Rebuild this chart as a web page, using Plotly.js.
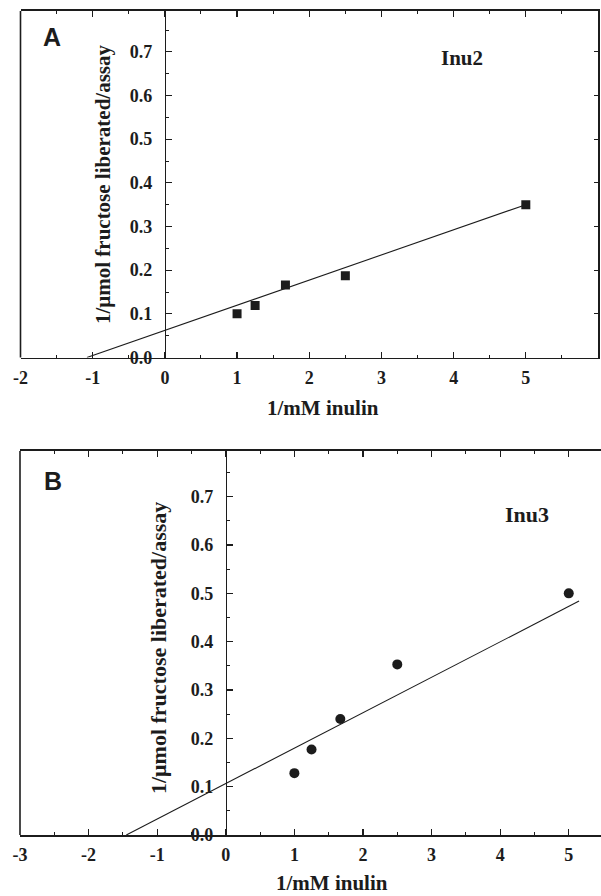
<!DOCTYPE html>
<html>
<head>
<meta charset="utf-8">
<script src="https://cdn.plot.ly/plotly-3.0.1.min.js"></script>
<style>html,body{margin:0;padding:0;background:#fff;}#chart{width:601px;height:896px;}</style>
</head>
<body>
<div id="chart"></div>
<script>
// ---- data ----
const xA = [1.0, 1.25, 1.67, 2.5, 5.0];
const yA = [0.100, 0.119, 0.166, 0.187, 0.350];
const fitAx = [-1.08, 5.0];
const fitAy = [0.0, 0.350];

const xB = [1.0, 1.25, 1.67, 2.5, 5.0];
const yB = [0.128, 0.177, 0.240, 0.353, 0.500];
const fitBx = [-1.45, 5.15];
const fitBy = [0.0, 0.484];

const xTicksA = [-2, -1, 0, 1, 2, 3, 4, 5];
const xTicksB = [-3, -2, -1, 0, 1, 2, 3, 4, 5];
const yTicks = [0, 0.1, 0.2, 0.3, 0.4, 0.5, 0.6, 0.7];
const labelA = 'A', labelB = 'B';
const nameA = 'Inu2', nameB = 'Inu3';
const yTitle = '1/\u03bcmol fructose liberated/assay';
const xTitle = '1/mM inulin';

// ---- layout geometry (pixels) ----
const W = 601, H = 896;
const ink = '#1c1c1c';
const serif = '"Liberation Serif", "Times New Roman", serif';
const sans = '"Liberation Sans", Arial, sans-serif';

const pA = {l: 20.5, r: 598, t: 11, b: 357.5, xr: [-2, 6], yr: [0, 0.7935]};
const pB = {l: 20, r: 601, t: 451, b: 835, xr: [-3, 5.47], yr: [0, 0.7945]};

function dom(p) {
  return {x: [p.l / W, p.r / W], y: [1 - p.b / H, 1 - p.t / H]};
}
function zeroPos(p) {
  return (p.l + (0 - p.xr[0]) / (p.xr[1] - p.xr[0]) * (p.r - p.l)) / W;
}
const dA = dom(pA), dB = dom(pB);

const tickFontA = {family: serif, size: 18, color: ink, weight: 'bold'};
const tickFontB = {family: serif, size: 18, color: ink, weight: 'bold'};

function xAxis(p, d, ticks, yname, tf) {
  return {
    domain: d.x, range: p.xr, anchor: yname,
    showgrid: false, zeroline: false, showline: true, linecolor: ink, linewidth: 1.6,
    mirror: 'ticks', ticks: 'inside', ticklen: 6, tickwidth: 1.2, tickcolor: ink,
    tickmode: 'array', tickvals: ticks, ticktext: ticks.map(v => '<b>' + String(v) + '</b>'),
    minor: {ticks: 'inside', ticklen: 3, tickwidth: 1, tickcolor: ink, tickmode: 'linear', tick0: 0, dtick: 0.5},
    tickfont: tf, ticklabelstandoff: 3, fixedrange: true
  };
}
function frameY(p, d, xname, showRight) {
  return {
    domain: d.y, range: p.yr, anchor: xname, side: 'right',
    showgrid: false, zeroline: false, showline: showRight, linecolor: ink, linewidth: 1.6,
    mirror: false, ticks: showRight ? 'inside' : '', ticklen: 4, tickwidth: 1, tickcolor: ink,
    dtick: 0.1, tick0: 0, showticklabels: false, fixedrange: true
  };
}
function freeY(p, d, over, tf) {
  return {
    overlaying: over, anchor: 'free', position: zeroPos(p), side: 'left', range: p.yr,
    showgrid: false, zeroline: false, showline: true, linecolor: ink, linewidth: 1.6,
    ticks: 'inside', ticklen: 6, tickwidth: 1.2, tickcolor: ink,
    tickmode: 'array', tickvals: yTicks, ticktext: yTicks.map(v => '<b>' + v.toFixed(1) + '</b>'),
    minor: {ticks: 'inside', ticklen: 3, tickwidth: 1, tickcolor: ink, tickmode: 'linear', tick0: 0, dtick: 0.05},
    tickfont: tf, ticklabelstandoff: 9, fixedrange: true
  };
}

const traces = [
  {x: fitAx, y: fitAy, xaxis: 'x', yaxis: 'y', mode: 'lines', line: {color: ink, width: 1.1}, hoverinfo: 'skip'},
  {x: xA, y: yA, xaxis: 'x', yaxis: 'y', mode: 'markers', marker: {symbol: 'square', size: 9, color: ink}},
  {x: [], y: [], xaxis: 'x', yaxis: 'y3', mode: 'markers'},
  {x: fitBx, y: fitBy, xaxis: 'x2', yaxis: 'y2', mode: 'lines', line: {color: ink, width: 1.1}, hoverinfo: 'skip'},
  {x: xB, y: yB, xaxis: 'x2', yaxis: 'y2', mode: 'markers', marker: {symbol: 'circle', size: 10, color: ink}},
  {x: [], y: [], xaxis: 'x2', yaxis: 'y4', mode: 'markers'}
];

function leftLine(d) {
  return {type: 'line', xref: 'paper', yref: 'paper', x0: d.x[0], x1: d.x[0], y0: d.y[0], y1: d.y[1],
          line: {color: ink, width: 1.6}};
}

function ann(text, px, py, size, family, angle) {
  return {text: '<b>' + text + '</b>', xref: 'paper', yref: 'paper', x: px / W, y: 1 - py / H,
          xanchor: 'center', yanchor: 'middle', showarrow: false, textangle: angle || 0,
          font: {family: family, size: size, color: ink}};
}

const layout = {
  width: W, height: H, margin: {l: 0, r: 0, t: 0, b: 0},
  paper_bgcolor: '#fff', plot_bgcolor: '#fff', showlegend: false,
  xaxis: xAxis(pA, dA, xTicksA, 'y', tickFontA),
  yaxis: frameY(pA, dA, 'x', true),
  yaxis3: freeY(pA, dA, 'y', tickFontA),
  xaxis2: xAxis(pB, dB, xTicksB, 'y2', tickFontB),
  yaxis2: frameY(pB, dB, 'x2', false),
  yaxis4: freeY(pB, dB, 'y2', tickFontB),
  shapes: [leftLine(dA), leftLine(dB)],
  annotations: [
    ann(labelA, 52, 37, 25, sans),
    ann(labelB, 53, 481, 25, sans),
    ann(nameA, 462, 58, 21, serif),
    ann(nameB, 527, 514, 22, serif),
    ann(yTitle, 103, 184, 21, serif, -90),
    ann(yTitle, 158, 648, 22, serif, -90),
    ann(xTitle, 323, 408, 21, serif),
    ann(xTitle, 332, 883, 21, serif)
  ]
};

Plotly.newPlot('chart', traces, layout, {displayModeBar: false, staticPlot: true});
</script>
</body>
</html>
